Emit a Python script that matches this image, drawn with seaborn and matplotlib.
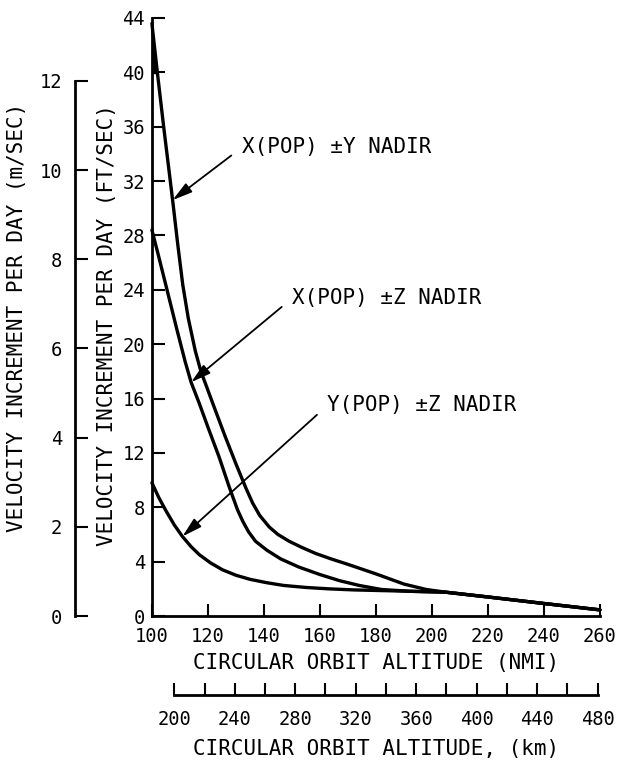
import matplotlib
matplotlib.use("Agg")
import matplotlib.pyplot as plt
import seaborn as sns
import pandas as pd

# --- DATA ---
ALT_A = [100, 102, 104.2, 107.4, 109.2, 111, 113, 115.5, 117.5, 119.3, 122, 126, 130,
         133.6, 136, 138.5, 141.9, 145, 149, 153.5, 158.5, 164, 170, 180, 190, 198,
         205, 220, 240, 260]
DV_A = [43.6, 39.9, 36.0, 30.6, 27.4, 24.4, 21.9, 19.5, 18.0, 17.0, 15.5, 13.3, 11.2,
        9.4, 8.3, 7.4, 6.55, 6.0, 5.5, 5.05, 4.6, 4.2, 3.8, 3.1, 2.35, 1.95,
        1.75, 1.4, 0.92, 0.45]

ALT_B = [100, 102, 105.4, 108.9, 111.9, 114, 117, 120, 124, 127.6, 130.6, 132.5, 134.5,
         137, 141, 146, 152.5, 160, 167, 174, 182, 192, 205, 220, 240, 260]
DV_B = [28.4, 26.8, 24.0, 21.1, 18.7, 17.2, 15.6, 13.9, 11.7, 9.5, 7.8, 6.95, 6.2,
        5.5, 4.85, 4.2, 3.6, 3.05, 2.6, 2.25, 1.95, 1.82, 1.75, 1.4, 0.92, 0.45]

ALT_C = [100, 102.5, 105, 108, 110.9, 114, 117, 121, 125.2, 130, 135, 141, 147, 155,
         163, 172, 182, 192, 205, 220, 240, 260]
DV_C = [9.8, 8.7, 7.75, 6.7, 5.85, 5.1, 4.5, 3.9, 3.4, 3.0, 2.7, 2.45, 2.25, 2.1,
        2.0, 1.92, 1.87, 1.82, 1.75, 1.4, 0.92, 0.45]

CASES = ["X(POP) \u00b1Y NADIR", "X(POP) \u00b1Z NADIR", "Y(POP) \u00b1Z NADIR"]
TIP_IDX = [3, 5, 4]  # point on each curve that the arrow touches

NMI_TICKS = list(range(100, 261, 20))
FT_TICKS = list(range(0, 45, 4))
MS_TICKS = list(range(0, 13, 2))
KM_MAJOR = list(range(200, 481, 40))
KM_MINOR = list(range(220, 461, 40))

# label placement (data coords)
LABEL_POS = [(132.3, 34.5), (150.2, 23.4), (162.7, 15.5)]

FT_TO_M = 0.3048
NMI_TO_KM = 1.852

sns.set_theme(style="ticks")
plt.rcParams["font.family"] = ["DejaVu Sans Mono", "DejaVu Sans"]
plt.rcParams["text.color"] = "black"
plt.rcParams["axes.labelcolor"] = "black"
plt.rcParams["axes.linewidth"] = 2.0

df = pd.concat([
    pd.DataFrame({"alt": ALT_A, "dv": DV_A, "case": CASES[0]}),
    pd.DataFrame({"alt": ALT_B, "dv": DV_B, "case": CASES[1]}),
    pd.DataFrame({"alt": ALT_C, "dv": DV_C, "case": CASES[2]}),
])

LBL = 15
TCK = 13.5

fig = plt.figure(figsize=(6.2, 7.62), dpi=100)
ax = fig.add_axes([0.245, 0.1916, 0.7226, 0.7848])

sns.lineplot(data=df, x="alt", y="dv", hue="case", palette=["black"] * 3,
             linewidth=2.4, legend=False, ax=ax, sort=False)
for ln in ax.lines:
    ln.set_clip_on(False)
    ln.set_solid_joinstyle("round")

# thick start of the top curve, where it leaves the axis
ax.fill_betweenx(DV_A[:2], ALT_A[0], ALT_A[:2], color="black", lw=0)

ax.set_xlim(100, 260)
ax.set_ylim(0, 44)
ax.set_xticks(NMI_TICKS)
ax.set_yticks(FT_TICKS)
sns.despine(ax=ax)
for s in ["left", "bottom"]:
    ax.spines[s].set_color("black")
ax.tick_params(direction="in", length=9, width=1.5, labelsize=TCK, colors="black")
ax.tick_params(axis="x", pad=8)
ax.tick_params(axis="y", pad=5)

ax.set_xlabel("CIRCULAR ORBIT ALTITUDE (NMI)", fontsize=LBL, labelpad=5)
ax.set_ylabel("VELOCITY INCREMENT PER DAY (FT/SEC)", fontsize=LBL)
ax.yaxis.set_label_coords(-0.079, 0.487)

# m/sec scale on the far left
secy = ax.secondary_yaxis(-0.172, functions=(lambda v: v * FT_TO_M, lambda v: v / FT_TO_M))
secy.set_yticks(MS_TICKS)
secy.spines["left"].set_bounds(0, 12)
secy.spines["left"].set_linewidth(2.0)
secy.spines["left"].set_color("black")
secy.tick_params(direction="in", length=9, width=1.5, labelsize=TCK, colors="black", pad=9)
secy.set_ylabel("VELOCITY INCREMENT PER DAY (m/SEC)", fontsize=LBL, labelpad=9)

# km scale below
secx = ax.secondary_xaxis(-0.132, functions=(lambda v: v * NMI_TO_KM, lambda v: v / NMI_TO_KM))
secx.set_xticks(KM_MAJOR)
secx.set_xticks(KM_MINOR, minor=True)
secx.spines["bottom"].set_bounds(200, 480)
secx.spines["bottom"].set_linewidth(2.0)
secx.spines["bottom"].set_color("black")
secx.tick_params(which="both", direction="in", length=9, width=1.5, labelsize=TCK,
                 colors="black", pad=11)
secx.set_xlabel("CIRCULAR ORBIT ALTITUDE, (km)", fontsize=LBL, labelpad=7)

# arrows + case labels
curves = [(ALT_A, DV_A), (ALT_B, DV_B), (ALT_C, DV_C)]
for (xs, ys), name, idx, pos in zip(curves, CASES, TIP_IDX, LABEL_POS):
    ax.annotate(name, xy=(xs[idx], ys[idx]), xytext=pos, ha="left", va="center",
                fontsize=LBL,
                arrowprops=dict(arrowstyle="-|>,head_length=0.8,head_width=0.22",
                                color="black", lw=1.3, shrinkA=7, shrinkB=0,
                                relpos=(0, 0.5)))

fig.savefig("out.png", dpi=100)
